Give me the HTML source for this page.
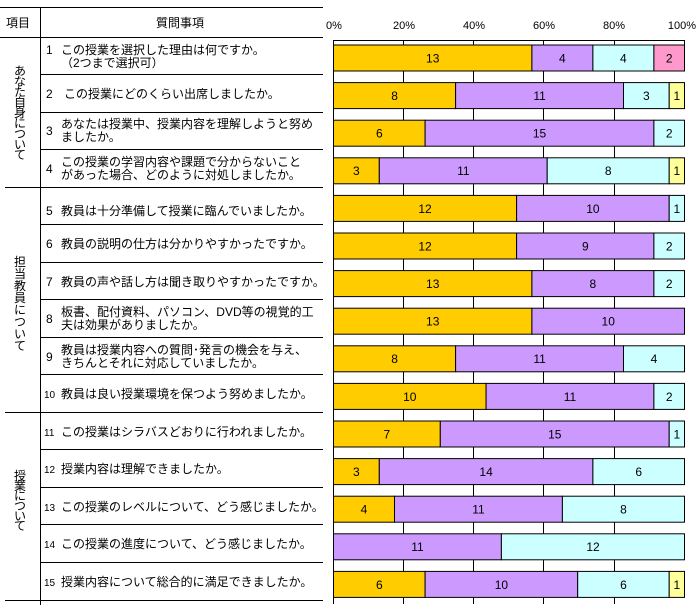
<!DOCTYPE html>
<html><head><meta charset="utf-8"><style>
html,body{margin:0;padding:0;background:#fff;}
svg{display:block;font-family:"Liberation Sans","Noto Sans CJK JP",sans-serif;}
</style></head><body>
<svg width="699" height="614" viewBox="0 0 699 614" xmlns="http://www.w3.org/2000/svg">
<g stroke="#000" stroke-width="1" fill="none" shape-rendering="crispEdges">
<line x1="0" y1="7.5" x2="323" y2="7.5"/>
<line x1="40.5" y1="8" x2="40.5" y2="605"/>
<line x1="0" y1="37.5" x2="323" y2="37.5"/>
<line x1="40" y1="74.5" x2="323" y2="74.5"/>
<line x1="40" y1="112.5" x2="323" y2="112.5"/>
<line x1="40" y1="149.5" x2="323" y2="149.5"/>
<line x1="5" y1="187.5" x2="323" y2="187.5"/>
<line x1="40" y1="224.5" x2="323" y2="224.5"/>
<line x1="40" y1="262.5" x2="323" y2="262.5"/>
<line x1="40" y1="299.5" x2="323" y2="299.5"/>
<line x1="40" y1="337.5" x2="323" y2="337.5"/>
<line x1="40" y1="374.5" x2="323" y2="374.5"/>
<line x1="5" y1="412.5" x2="323" y2="412.5"/>
<line x1="40" y1="449.5" x2="323" y2="449.5"/>
<line x1="40" y1="487.5" x2="323" y2="487.5"/>
<line x1="40" y1="524.5" x2="323" y2="524.5"/>
<line x1="40" y1="562.5" x2="323" y2="562.5"/>
<line x1="5" y1="600.5" x2="323" y2="600.5"/>
<line x1="333.5" y1="40.5" x2="684.5" y2="40.5"/>
<line x1="333.5" y1="40" x2="333.5" y2="604"/>
<line x1="403.5" y1="40" x2="403.5" y2="604"/>
<line x1="473.5" y1="40" x2="473.5" y2="604"/>
<line x1="543.5" y1="40" x2="543.5" y2="604"/>
<line x1="614.5" y1="40" x2="614.5" y2="604"/>
<line x1="684.5" y1="40" x2="684.5" y2="46"/>
</g>
<g font-size="12" fill="#000">
<text x="6" y="27">項目</text>
<text x="180" y="27" text-anchor="middle">質問事項</text>
<g text-anchor="middle" font-size="12">
<text x="20" y="75">あ</text><text x="20" y="85.5">な</text><text x="20" y="96">た</text><text x="20" y="106.5">自</text><text x="20" y="117">身</text><text x="20" y="127.5">に</text><text x="20" y="138">つ</text><text x="20" y="148.5">い</text><text x="20" y="159">て</text>
<text x="20" y="266">担</text><text x="20" y="278">当</text><text x="20" y="290">教</text><text x="20" y="302">員</text><text x="20" y="314">に</text><text x="20" y="326">つ</text><text x="20" y="338">い</text><text x="20" y="350">て</text>
<text x="20" y="480">授</text><text x="20" y="490">業</text><text x="20" y="500">に</text><text x="20" y="510">つ</text><text x="20" y="520">い</text><text x="20" y="530">て</text>
</g>
<text x="46" y="54">1</text><text x="61" y="54">この授業を選択した理由は何ですか。</text><text x="61" y="67">（2つまで選択可）</text>
<text x="46" y="98">2</text><text x="64" y="98">この授業にどのくらい出席しましたか。</text>
<text x="46" y="135">3</text><text x="61" y="128">あなたは授業中、授業内容を理解しようと努め</text><text x="61" y="141">ましたか。</text>
<text x="46" y="173">4</text><text x="61" y="166">この授業の学習内容や課題で分からないこと</text><text x="61" y="179">があった場合、どのように対処しましたか。</text>
<text x="46" y="215">5</text><text x="61" y="215">教員は十分準備して授業に臨んでいましたか。</text>
<text x="46" y="248">6</text><text x="61" y="248">教員の説明の仕方は分かりやすかったですか。</text>
<text x="46" y="286">7</text><text x="61" y="286">教員の声や話し方は聞き取りやすかったですか。</text>
<text x="46" y="323">8</text><text x="61" y="316">板書、配付資料、パソコン、DVD等の視覚的工</text><text x="61" y="329">夫は効果がありましたか。</text>
<text x="46" y="361">9</text><text x="61" y="354">教員は授業内容への質問･発言の機会を与え、</text><text x="61" y="367">きちんとそれに対応していましたか。</text>
<text x="44" y="398" font-size="10">10</text><text x="61" y="398">教員は良い授業環境を保つよう努めましたか。</text>
<text x="44" y="436" font-size="10">11</text><text x="61" y="436">この授業はシラバスどおりに行われましたか。</text>
<text x="44" y="473" font-size="10">12</text><text x="61" y="473">授業内容は理解できましたか。</text>
<text x="44" y="511" font-size="10">13</text><text x="61" y="511">この授業のレベルについて、どう感じましたか。</text>
<text x="44" y="548" font-size="10">14</text><text x="61" y="548">この授業の進度について、どう感じましたか。</text>
<text x="44" y="586" font-size="10">15</text><text x="61" y="586">授業内容について総合的に満足できましたか。</text>
<text x="334" y="29" text-anchor="middle" font-size="11">0%</text>
<text x="404" y="29" text-anchor="middle" font-size="11">20%</text>
<text x="474" y="29" text-anchor="middle" font-size="11">40%</text>
<text x="544" y="29" text-anchor="middle" font-size="11">60%</text>
<text x="614" y="29" text-anchor="middle" font-size="11">80%</text>
<text x="682" y="29" text-anchor="middle" font-size="11">100%</text>
</g>
<g stroke="#000" stroke-width="1">
<rect x="333.5" y="45" width="198.4" height="26" fill="#FFCC00"/><rect x="531.9" y="45" width="61" height="26" fill="#CC99FF"/><rect x="592.9" y="45" width="61" height="26" fill="#CCFFFF"/><rect x="653.9" y="45" width="30.6" height="26" fill="#FF99CC"/>
<rect x="333.5" y="82.6" width="122.1" height="26" fill="#FFCC00"/><rect x="455.6" y="82.6" width="167.9" height="26" fill="#CC99FF"/><rect x="623.5" y="82.6" width="45.7" height="26" fill="#CCFFFF"/><rect x="669.2" y="82.6" width="15.3" height="26" fill="#FFFF99"/>
<rect x="333.5" y="120.2" width="91.6" height="26" fill="#FFCC00"/><rect x="425.1" y="120.2" width="228.8" height="26" fill="#CC99FF"/><rect x="653.9" y="120.2" width="30.6" height="26" fill="#CCFFFF"/>
<rect x="333.5" y="157.8" width="45.8" height="26" fill="#FFCC00"/><rect x="379.3" y="157.8" width="167.9" height="26" fill="#CC99FF"/><rect x="547.2" y="157.8" width="122" height="26" fill="#CCFFFF"/><rect x="669.2" y="157.8" width="15.3" height="26" fill="#FFFF99"/>
<rect x="333.5" y="195.4" width="183.1" height="26" fill="#FFCC00"/><rect x="516.6" y="195.4" width="152.6" height="26" fill="#CC99FF"/><rect x="669.2" y="195.4" width="15.3" height="26" fill="#CCFFFF"/>
<rect x="333.5" y="233" width="183.1" height="26" fill="#FFCC00"/><rect x="516.6" y="233" width="137.3" height="26" fill="#CC99FF"/><rect x="653.9" y="233" width="30.6" height="26" fill="#CCFFFF"/>
<rect x="333.5" y="270.6" width="198.4" height="26" fill="#FFCC00"/><rect x="531.9" y="270.6" width="122" height="26" fill="#CC99FF"/><rect x="653.9" y="270.6" width="30.6" height="26" fill="#CCFFFF"/>
<rect x="333.5" y="308.2" width="198.4" height="26" fill="#FFCC00"/><rect x="531.9" y="308.2" width="152.6" height="26" fill="#CC99FF"/>
<rect x="333.5" y="345.8" width="122.1" height="26" fill="#FFCC00"/><rect x="455.6" y="345.8" width="167.9" height="26" fill="#CC99FF"/><rect x="623.5" y="345.8" width="61" height="26" fill="#CCFFFF"/>
<rect x="333.5" y="383.4" width="152.6" height="26" fill="#FFCC00"/><rect x="486.1" y="383.4" width="167.8" height="26" fill="#CC99FF"/><rect x="653.9" y="383.4" width="30.6" height="26" fill="#CCFFFF"/>
<rect x="333.5" y="421" width="106.8" height="26" fill="#FFCC00"/><rect x="440.3" y="421" width="228.9" height="26" fill="#CC99FF"/><rect x="669.2" y="421" width="15.3" height="26" fill="#CCFFFF"/>
<rect x="333.5" y="458.6" width="45.8" height="26" fill="#FFCC00"/><rect x="379.3" y="458.6" width="213.6" height="26" fill="#CC99FF"/><rect x="592.9" y="458.6" width="91.6" height="26" fill="#CCFFFF"/>
<rect x="333.5" y="496.2" width="61" height="26" fill="#FFCC00"/><rect x="394.5" y="496.2" width="167.9" height="26" fill="#CC99FF"/><rect x="562.4" y="496.2" width="122.1" height="26" fill="#CCFFFF"/>
<rect x="333.5" y="533.8" width="167.9" height="26" fill="#CC99FF"/><rect x="501.4" y="533.8" width="183.1" height="26" fill="#CCFFFF"/>
<rect x="333.5" y="571.4" width="91.6" height="26" fill="#FFCC00"/><rect x="425.1" y="571.4" width="152.6" height="26" fill="#CC99FF"/><rect x="577.7" y="571.4" width="91.5" height="26" fill="#CCFFFF"/><rect x="669.2" y="571.4" width="15.3" height="26" fill="#FFFF99"/>
</g>
<g font-size="12" fill="#000" text-anchor="middle">
<text x="432.7" y="62.5">13</text><text x="562.4" y="62.5">4</text><text x="623.4" y="62.5">4</text><text x="669.2" y="62.5">2</text>
<text x="394.6" y="100">8</text><text x="539.6" y="100">11</text><text x="646.4" y="100">3</text><text x="676.9" y="100">1</text>
<text x="379.3" y="137.6">6</text><text x="539.5" y="137.6">15</text><text x="669.2" y="137.6">2</text>
<text x="356.4" y="175.2">3</text><text x="463.3" y="175.2">11</text><text x="608.2" y="175.2">8</text><text x="676.9" y="175.2">1</text>
<text x="425" y="212.8">12</text><text x="592.9" y="212.8">10</text><text x="676.9" y="212.8">1</text>
<text x="425" y="250.4">12</text><text x="585.3" y="250.4">9</text><text x="669.2" y="250.4">2</text>
<text x="432.7" y="288">13</text><text x="592.9" y="288">8</text><text x="669.2" y="288">2</text>
<text x="432.7" y="325.6">13</text><text x="608.2" y="325.6">10</text>
<text x="394.6" y="363.2">8</text><text x="539.6" y="363.2">11</text><text x="654" y="363.2">4</text>
<text x="409.8" y="400.8">10</text><text x="570" y="400.8">11</text><text x="669.2" y="400.8">2</text>
<text x="386.9" y="438.4">7</text><text x="554.8" y="438.4">15</text><text x="676.9" y="438.4">1</text>
<text x="356.4" y="476">3</text><text x="486.1" y="476">14</text><text x="638.7" y="476">6</text>
<text x="364" y="513.6">4</text><text x="478.5" y="513.6">11</text><text x="623.5" y="513.6">8</text>
<text x="417.5" y="551.2">11</text><text x="593" y="551.2">12</text>
<text x="379.3" y="588.8">6</text><text x="501.4" y="588.8">10</text><text x="623.5" y="588.8">6</text><text x="676.9" y="588.8">1</text>
</g>
</svg>
</body></html>
